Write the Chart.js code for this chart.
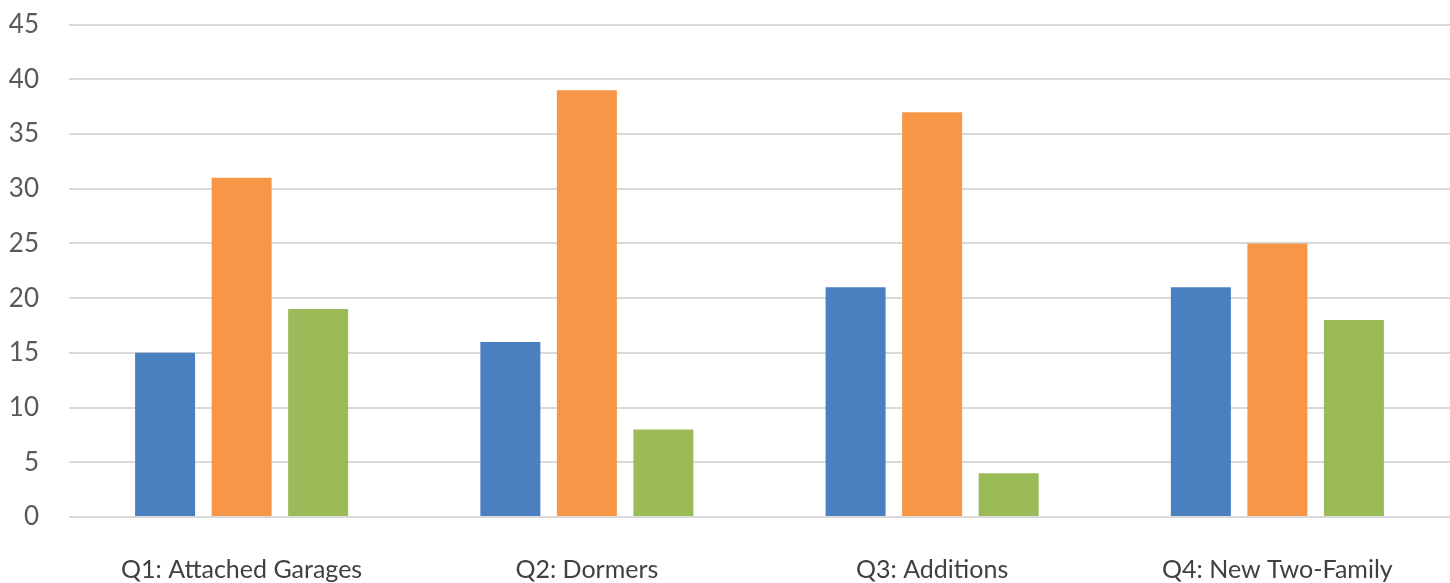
<!DOCTYPE html>
<html><head><meta charset="utf-8">
<script src="https://cdn.jsdelivr.net/npm/chart.js@4/dist/chart.umd.min.js"></script>
<style>html,body{margin:0;padding:0;overflow:hidden;background:#fff;width:1450px;height:583px}#w{position:relative;top:-21px;width:1450px;height:621px}</style>
</head><body>
<div id="w"><canvas id="c"></canvas></div>
<script>
const categories = ["Q1: Attached Garages", "Q2: Dormers", "Q3: Additions", "Q4: New Two-Family"];
const seriesBlue = [15, 16, 21, 21];
const seriesOrange = [31, 39, 37, 25];
const seriesGreen = [19, 8, 4, 18];
const yTicks = [0, 5, 10, 15, 20, 25, 30, 35, 40, 45];

const font = "Lato, 'Open Sans', sans-serif";
new Chart(document.getElementById('c'), {
  type: 'bar',
  data: {
    labels: categories,
    datasets: [
      {label: 'A', data: seriesBlue, backgroundColor: '#4A80C0'},
      {label: 'B', data: seriesOrange, backgroundColor: '#F79646'},
      {label: 'C', data: seriesGreen, backgroundColor: '#9BBB59'}
    ]
  },
  options: {
    responsive: true,
    maintainAspectRatio: false,
    animation: false,
    categoryPercentage: 0.665,
    barPercentage: 0.784,
    layout: {padding: {top: 3, right: 0, left: 0, bottom: 0}},
    plugins: {legend: {display: false}, tooltip: {enabled: false}},
    scales: {
      x: {
        grid: {display: false, drawTicks: false},
        border: {display: false},
        afterFit: (s) => { s.height = 83; },
        ticks: {color: '#404040', font: {family: font, size: 25}, padding: 38, maxRotation: 0, autoSkip: false}
      },
      y: {
        min: 0, max: 45,
        afterBuildTicks: (axis) => { axis.ticks = yTicks.map(v => ({value: v})); },
        afterFit: (s) => { s.width = 69; },
        grid: {color: '#d9d9d9', lineWidth: 2, drawTicks: false},
        border: {display: false},
        ticks: {color: '#595959', font: {family: font, size: 26}, padding: 30}
      }
    }
  }
});
</script>
</body></html>
